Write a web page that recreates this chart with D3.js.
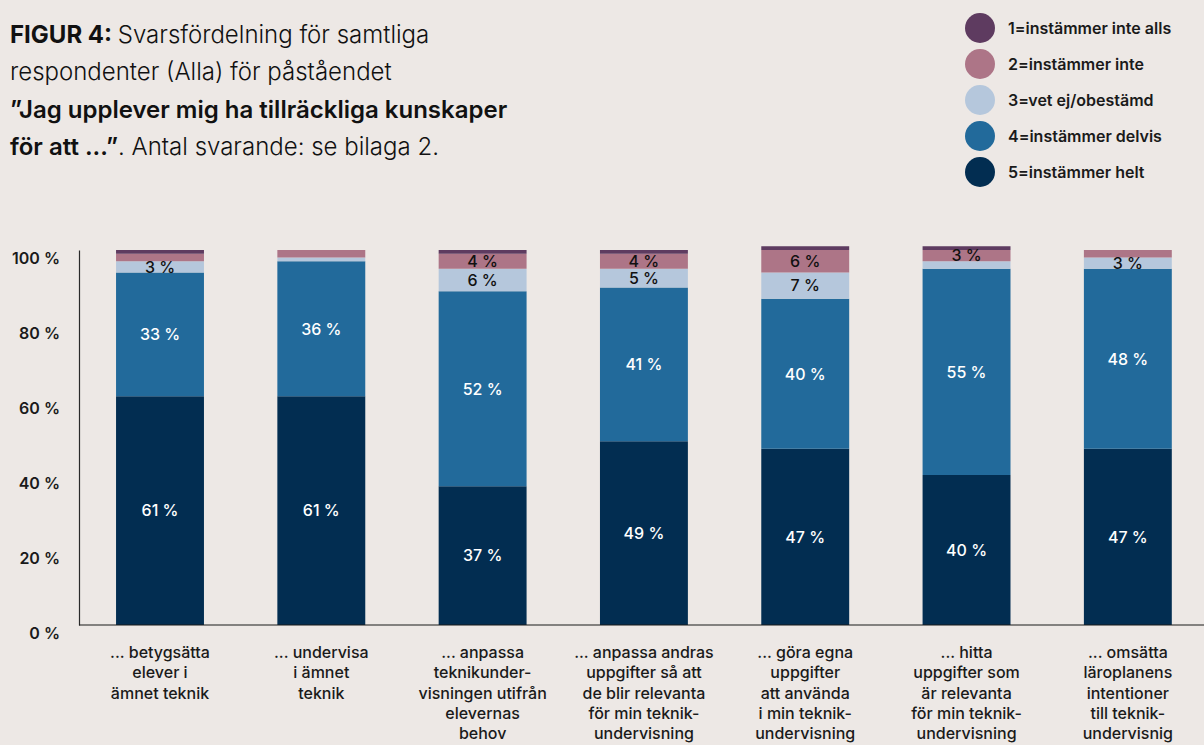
<!DOCTYPE html>
<html>
<head>
<meta charset="utf-8">
<script src="https://cdn.jsdelivr.net/npm/d3@7"></script>
<style>
  html, body { margin: 0; padding: 0; background: #ede8e5; }
  svg { display: block; font-family: Inter, "Noto Sans", sans-serif; }
</style>
</head>
<body>
<svg id="chart" width="1204" height="745"></svg>
<script>
// ---- Data ----
const categories = [
  "betygsätta elever i ämnet teknik",
  "undervisa i ämnet teknik",
  "anpassa teknikundervisningen utifrån elevernas behov",
  "anpassa andras uppgifter så att de blir relevanta för min teknikundervisning",
  "göra egna uppgifter att använda i min teknikundervisning",
  "hitta uppgifter som är relevanta för min teknikundervisning",
  "omsätta läroplanens intentioner till teknikundervisnig"
];
const categoryLabelLines = [
  ["... betygsätta", "elever i", "ämnet teknik"],
  ["... undervisa", "i ämnet", "teknik"],
  ["... anpassa", "teknikunder-", "visningen utifrån", "elevernas", "behov"],
  ["... anpassa andras", "uppgifter så att", "de blir relevanta", "för min teknik-", "undervisning"],
  ["... göra egna", "uppgifter", "att använda", "i min teknik-", "undervisning"],
  ["... hitta", "uppgifter som", "är relevanta", "för min teknik-", "undervisning"],
  ["... omsätta", "läroplanens", "intentioner", "till teknik-", "undervisnig"]
];
const seriesNames = [
  "1=instämmer inte alls",
  "2=instämmer inte",
  "3=vet ej/obestämd",
  "4=instämmer delvis",
  "5=instämmer helt"
];
const s1 = [1, 0, 1, 1, 1, 1, 0];
const s2 = [2, 2, 4, 4, 6, 3, 2];
const s3 = [3, 1, 6, 5, 7, 2, 3];
const s4 = [33, 36, 52, 41, 40, 55, 48];
const s5 = [61, 61, 37, 49, 47, 40, 47];
const yTicks = [0, 20, 40, 60, 80, 100];
const seriesColors = ["#5e3b60", "#ad7587", "#b5c7dc", "#226a9b", "#022d51"];
const labelColors = ["#111", "#111", "#111", "#ffffff", "#ffffff"];

// ---- Setup ----
const svg = d3.select("#chart");
svg.append("rect").attr("width", 1204).attr("height", 745).attr("fill", "#ede8e5");

const rows = categories.map((c, i) => ({ cat: c, s1: s1[i], s2: s2[i], s3: s3[i], s4: s4[i], s5: s5[i] }));
const keys = ["s5", "s4", "s3", "s2", "s1"]; // bottom to top
const keyIndex = { s1: 0, s2: 1, s3: 2, s4: 3, s5: 4 };
const stacked = d3.stack().keys(keys)(rows);

const x = d3.scaleBand().domain(categories).range([79.35, 1208.5]).paddingInner(0.455).paddingOuter(0.2275);
const y = d3.scaleLinear().domain([0, 100]).range([625, 250]);

// ---- Bars ----
const layers = svg.append("g").selectAll("g").data(stacked).join("g")
  .attr("fill", d => seriesColors[keyIndex[d.key]]);
layers.selectAll("rect").data(d => d).join("rect")
  .attr("x", d => x(d.data.cat))
  .attr("width", x.bandwidth())
  .attr("y", d => y(d[1]))
  .attr("height", d => Math.max(0, y(d[0]) - y(d[1])));

// ---- Value labels ----
stacked.forEach(layer => {
  const k = keyIndex[layer.key];
  svg.append("g").selectAll("text").data(layer.filter(d => (d[1] - d[0]) >= 3)).join("text")
    .attr("x", d => x(d.data.cat) + x.bandwidth() / 2)
    .attr("y", d => (y(d[0]) + y(d[1])) / 2)
    .attr("dy", "0.36em")
    .attr("text-anchor", "middle")
    .attr("font-size", 16)
    .attr("font-weight", 500)
    .attr("fill", labelColors[k])
    .text(d => (d[1] - d[0]) + " %");
});

// ---- Axes ----
const yAxis = d3.axisLeft(y).tickValues(yTicks).tickSize(0).tickFormat(d => d + " %");
const yg = svg.append("g").attr("transform", "translate(79,0)").call(yAxis);
yg.select(".domain").attr("stroke", "#2a2a2a").attr("stroke-width", 1.2);
yg.selectAll(".tick text")
  .attr("x", -19)
  .attr("y", -3)
  .attr("dy", "1.0em")
  .attr("font-family", "Inter, sans-serif")
  .attr("font-size", 16)
  .attr("font-weight", 600)
  .attr("fill", "#1a1a1a");

// baseline
svg.append("line").attr("x1", 79).attr("x2", 1204).attr("y1", y(0)).attr("y2", y(0))
  .attr("stroke", "#1a1a1a").attr("stroke-width", 1.2);

// x labels
const xg = svg.append("g");
categories.forEach((c, i) => {
  const t = xg.append("text")
    .attr("x", x(c) + x.bandwidth() / 2)
    .attr("y", 658)
    .attr("text-anchor", "middle")
    .attr("font-size", 16)
    .attr("font-weight", 500)
    .attr("fill", "#1a1a1a");
  categoryLabelLines[i].forEach((line, j) => {
    t.append("tspan").attr("x", x(c) + x.bandwidth() / 2).attr("dy", j === 0 ? 0 : 20.3).text(line);
  });
});

// ---- Title ----
const title = svg.append("text").attr("x", 10).attr("font-size", 24).attr("fill", "#111");
const l1 = title.append("tspan").attr("x", 10).attr("y", 43);
l1.append("tspan").attr("font-weight", 700).text("FIGUR 4: ");
l1.append("tspan").attr("font-weight", 300).text("Svarsfördelning för samtliga");
title.append("tspan").attr("x", 10).attr("y", 80).attr("font-weight", 300).text("respondenter (Alla) för påståendet");
title.append("tspan").attr("x", 10).attr("y", 118).attr("font-weight", 600).text("”Jag upplever mig ha tillräckliga kunskaper");
const l4 = title.append("tspan").attr("x", 10).attr("y", 155);
l4.append("tspan").attr("font-weight", 600).text("för att ...”");
l4.append("tspan").attr("font-weight", 300).text(". Antal svarande: se bilaga 2.");

// ---- Legend ----
const legend = svg.append("g").attr("transform", "translate(980,28)");
const li = legend.selectAll("g").data(seriesNames).join("g")
  .attr("transform", (d, i) => `translate(0,${i * 36})`);
li.append("circle").attr("r", 15).attr("fill", (d, i) => seriesColors[i]);
li.append("text").attr("x", 28).attr("dy", "0.36em")
  .attr("font-size", 16).attr("font-weight", 600).attr("fill", "#1a1a1a")
  .text(d => d);
</script>
</body>
</html>
